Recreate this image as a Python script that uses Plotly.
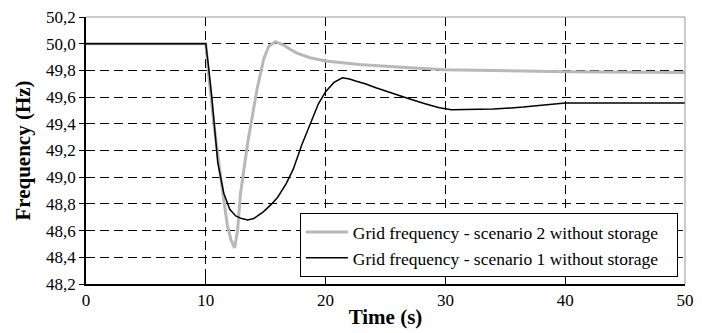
import plotly.graph_objects as go

# Scenario 1 (black)
t1 = [0, 10, 10.2, 10.5, 11.0, 11.5, 12.0, 12.5, 13.0, 13.5, 14.0, 14.8, 15.5, 16.0, 16.7,
      17.3, 18.0, 18.7, 19.4, 20.0, 20.7, 21.4, 22.0, 22.5, 23.3, 24.2, 25.5, 26.9, 28.3,
      29.5, 30.5, 32.0, 34.0, 36.5, 38.5, 40.0, 50.0]
f1 = [50.0, 50.0, 49.85, 49.6, 49.11, 48.88, 48.76, 48.71, 48.69, 48.68, 48.69, 48.74, 48.80,
      48.85, 48.95, 49.06, 49.24, 49.40, 49.55, 49.64, 49.71, 49.745, 49.735, 49.72, 49.70,
      49.67, 49.63, 49.59, 49.55, 49.52, 49.505, 49.505, 49.51, 49.525, 49.54, 49.555, 49.555]

# Scenario 2 (gray)
t2 = [0, 10, 10.2, 10.7, 11.3, 11.8, 12.1, 12.4, 12.65, 12.9, 13.5, 14.0, 14.3, 14.85, 15.25,
      15.8, 16.5, 17.0, 17.6, 18.7, 20.0, 22.8, 24.2, 27, 30, 35, 40, 50]
f2 = [50.0, 50.0, 49.80, 49.38, 48.96, 48.64, 48.53, 48.47, 48.60, 48.88, 49.26, 49.53, 49.67,
      49.89, 49.98, 50.015, 49.99, 49.96, 49.93, 49.895, 49.87, 49.845, 49.835, 49.82, 49.805,
      49.795, 49.79, 49.785]

names = ["Grid frequency - scenario 2 without storage",
         "Grid frequency - scenario 1 without storage"]

x_ticks = [0, 10, 20, 30, 40, 50]
y_ticks = [48.2, 48.4, 48.6, 48.8, 49.0, 49.2, 49.4, 49.6, 49.8, 50.0, 50.2]

font = "Liberation Serif, Times New Roman, serif"
pad = "\u00a0" * 3

fig = go.Figure()
fig.add_trace(go.Scatter(x=t2, y=f2, mode="lines",
                         line=dict(color="#b8b8b8", width=3),
                         name=names[0] + pad))
fig.add_trace(go.Scatter(x=t1, y=f1, mode="lines",
                         line=dict(color="black", width=1.5),
                         name=names[1] + pad))

fig.update_layout(
    width=702, height=333,
    margin=dict(l=86, r=8, t=12, b=49),
    paper_bgcolor="white", plot_bgcolor="white",
    separators=", ",
    font=dict(family=font, size=17, color="black"),
    legend=dict(x=0.357, y=0.265, xanchor="left", yanchor="top",
                bordercolor="black", borderwidth=1, bgcolor="white",
                itemwidth=42,
                font=dict(family=font, size=17.5), tracegroupgap=0),
    xaxis=dict(range=[0, 50], tickvals=x_ticks, showline=True, linecolor="black",
               linewidth=1.5, ticks="inside", ticklen=8, tickcolor="black",
               tickfont=dict(family=font, size=17), ticklabeloverflow="allow",
               showgrid=True, gridcolor="black", gridwidth=1, griddash="9px,5px",
               zeroline=False,
               title=dict(text="<b>Time (s)</b>", font=dict(family=font, size=21), standoff=0)),
    yaxis=dict(range=[48.2, 50.2], tickvals=y_ticks, tickformat=".1f", showline=True,
               linecolor="black", linewidth=1.5, ticks="outside", ticklen=5,
               tickcolor="black", tickfont=dict(family=font, size=17),
               showgrid=True, gridcolor="black", gridwidth=1,
               griddash="9px,5px", zeroline=False,
               title=dict(text="<b>Frequency (Hz)</b>", font=dict(family=font, size=21), standoff=10)),
    shapes=[
        dict(type="line", xref="paper", yref="paper", x0=0, x1=1, y0=1, y1=1,
             line=dict(color="#999999", width=1)),
        dict(type="line", xref="paper", yref="paper", x0=1, x1=1, y0=0, y1=1,
             line=dict(color="#999999", width=1)),
    ],
)

fig.write_html("out.html")
